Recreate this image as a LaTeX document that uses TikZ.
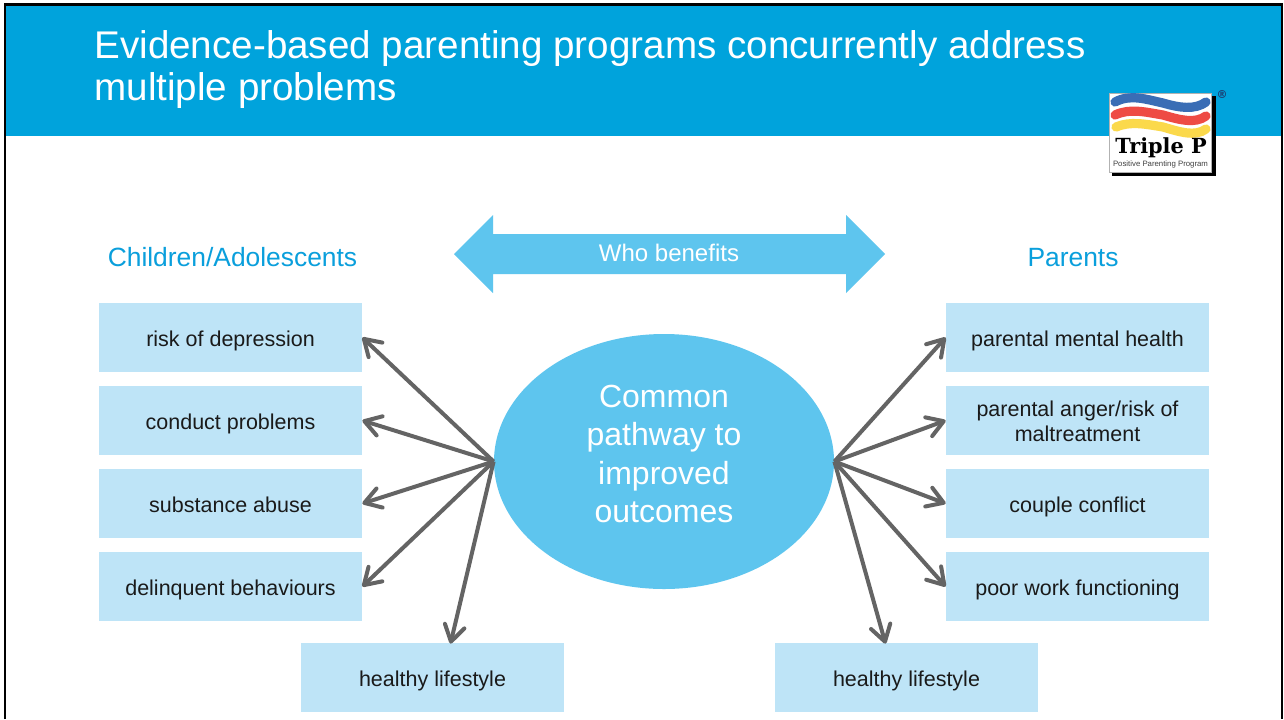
\documentclass[tikz,border=0pt]{standalone}
\usepackage{fontspec}
\setmainfont{Liberation Sans}
\newfontfamily\logofont{DejaVu Serif}
\newfontfamily\regfont{DejaVu Sans}
\usetikzlibrary{arrows.meta,shapes.geometric}
\definecolor{hdr}{HTML}{00A3DC}
\definecolor{pale}{HTML}{BEE4F7}
\definecolor{mid}{HTML}{5EC5EE}
\definecolor{gr}{HTML}{646464}
\definecolor{headtxt}{HTML}{0A9FDC}
\definecolor{ink}{HTML}{1A1A1A}
\definecolor{wblue}{HTML}{3A6DB5}
\definecolor{wred}{HTML}{EE4B44}
\definecolor{wyel}{HTML}{FBD94B}
\definecolor{regc}{HTML}{1C3F73}
\tikzset{
  x=0.5pt,y=-0.5pt,
  box/.style={fill=pale,draw=none,minimum width=131.5pt,minimum height=34.5pt,inner sep=0pt,align=center,font=\fontsize{10.75pt}{12.6pt}\selectfont,text=ink,text height=10.5pt,text depth=2pt},
  link/.style={draw=gr,line width=2pt,-{Straight Barb[length=8pt,width=10pt,line width=2pt,round]}},
  head/.style={text=headtxt,font=\fontsize{13.2pt}{15pt}\selectfont,inner sep=0pt},
  wave/.style={line width=4.6pt,line cap=round}
}
\begin{document}
\begin{tikzpicture}
\useasboundingbox (0,0) rectangle (1284,719);
\fill[white] (0,0) rectangle (1284,719);
\fill[hdr] (5,5) rectangle (1281,136);
\draw[black,line width=1.2pt] (5,719) -- (5,4.5) -- (1282,4.5) -- (1282,719);
\node[anchor=west,text=white,inner sep=0pt,align=left,font=\fontsize{19.3pt}{21pt}\selectfont] (title) at (94,70) {Evidence-based parenting programs concurrently address\\multiple problems};
% logo
\fill[black] (1112,96) rectangle (1215.5,175.5);
\fill[white,draw=gray!60,line width=0.3pt] (1109,93) rectangle (1211,172);
\draw[wave,wblue] (1115,102) .. controls (1130,94) and (1145,99) .. (1163,103) .. controls (1180,108) and (1195,110) .. (1206,102);
\draw[wave,wred] (1115,115) .. controls (1130,108) and (1145,112) .. (1163,115) .. controls (1180,120) and (1195,124) .. (1206,116);
\draw[wave,wyel] (1116,127) .. controls (1130,121) and (1145,124) .. (1163,127) .. controls (1180,132) and (1195,137) .. (1206,129);
\node[inner sep=0pt,font=\logofont\fontsize{10.4pt}{11pt}\bfseries\selectfont] (tp) at (1161,148) {Triple P};
\node[inner sep=0pt,font=\fontsize{3.9pt}{4pt}\selectfont,text=black!75] (pp) at (1160.5,164) {Positive Parenting Program};
\node[inner sep=0pt,font=\regfont\fontsize{5.5pt}{6pt}\bfseries\selectfont,text=regc] (reg) at (1222,95) {®};
% headings
\node[head] (hl) at (232.5,257) {Children/Adolescents};
\node[head] (hr) at (1073,257.5) {Parents};
% double arrow
\fill[mid] (454,254) -- (493,215) -- (493,234) -- (846,234) -- (846,215) -- (885,254) -- (846,293) -- (846,274) -- (493,274) -- (493,293) -- cycle;
\node[text=white,inner sep=0pt,font=\fontsize{12pt}{14pt}\selectfont] (who) at (669,253) {Who benefits};
% centre
\node[ellipse,fill=mid,minimum width=170pt,minimum height=127.5pt,inner sep=0pt,label={[inner sep=0pt,align=center,text=white,font=\fontsize{16pt}{19.3pt}\selectfont,yshift=3.75pt]center:Common\\pathway to\\improved\\outcomes}] (c) at (664,461.5) {};
% boxes
\node[box] (l1) at (230.5,337.5) {risk of depression};
\node[box] (l2) at (230.5,420.5) {conduct problems};
\node[box] (l3) at (230.5,503.5) {substance abuse};
\node[box] (l4) at (230.5,586.5) {delinquent behaviours};
\node[box] (l5) at (432.5,677.5) {healthy lifestyle};
\node[box] (r1) at (1077.5,337.5) {parental mental health};
\node[box,text height=22.8pt,text depth=2pt] (r2) at (1077.5,420.5) {parental anger/risk of\\maltreatment};
\node[box] (r3) at (1077.5,503.5) {couple conflict};
\node[box] (r4) at (1077.5,586.5) {poor work functioning};
\node[box] (r5) at (906.5,677.5) {healthy lifestyle};
% connectors
\coordinate (cl) at (c.west);
\coordinate (cr) at (c.east);
\path (l5.north) ++(9pt,-0.5pt) coordinate (lf);
\path (r5.north) ++(-10.5pt,-0.5pt) coordinate (rf);
\foreach \t in {l1,l2,l3,l4} \draw[link] (cl) -- (\t.east);
\foreach \t in {r1,r2,r3,r4} \draw[link] (cr) -- (\t.west);
\draw[link] (cl) -- (lf);
\draw[link] (cr) -- (rf);
\end{tikzpicture}
\end{document}
